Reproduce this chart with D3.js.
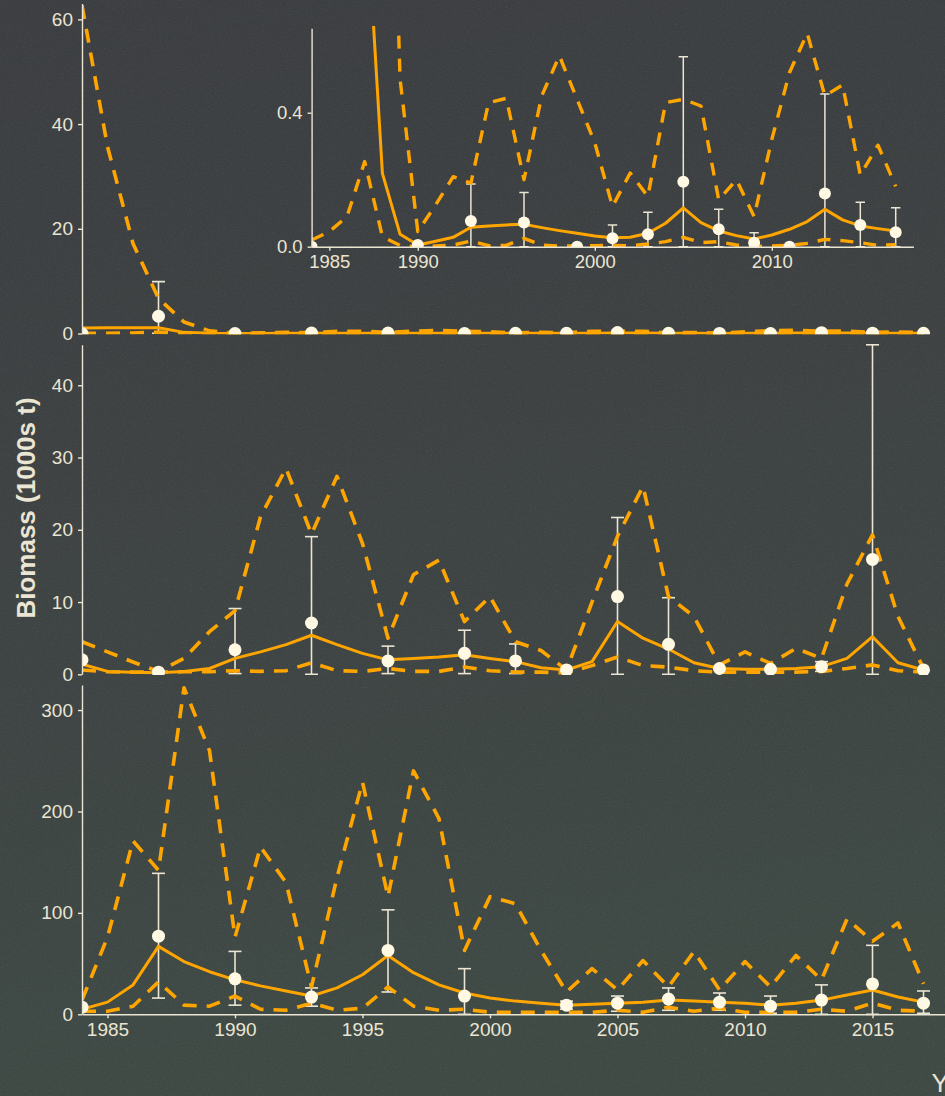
<!DOCTYPE html>
<html><head><meta charset="utf-8">
<script src="https://cdn.jsdelivr.net/npm/d3@7"></script>
<style>html,body{margin:0;padding:0;background:#3d4042;}svg{display:block;}</style>
</head><body>
<svg id="chart" width="945" height="1096"></svg>
<script>
// ---------------- DATA ----------------
const years = [1984,1985,1986,1987,1988,1989,1990,1991,1992,1993,1994,1995,1996,1997,1998,1999,2000,2001,2002,2003,2004,2005,2006,2007,2008,2009,2010,2011,2012,2013,2014,2015,2016,2017];

// Panel 1 (top) model estimate and dashed interval
const est1 = [1.05,1.08,1.1,1.1,0.219,0.037,0.005,0.016,0.028,0.058,0.062,0.065,0.067,0.057,0.048,0.040,0.032,0.027,0.028,0.040,0.070,0.116,0.072,0.047,0.033,0.023,0.035,0.052,0.075,0.112,0.080,0.062,0.054,0.047];
const hi1 = [62.7,35.7,17.2,6.7,2.2,0.5,0.045,0.124,0.209,0.19,0.43,0.443,0.2,0.45,0.57,0.44,0.31,0.12,0.22,0.15,0.43,0.44,0.42,0.14,0.2,0.09,0.32,0.52,0.637,0.45,0.483,0.214,0.303,0.18];
const lo1 = [0.02,0.045,0.09,0.254,0.03,0.004,0.0,0.002,0.005,0.017,0.003,0.004,0.025,0.005,0.002,0.002,0.003,0.004,0.003,0.008,0.015,0.028,0.012,0.015,0.005,0.001,0.002,0.004,0.01,0.022,0.018,0.012,0.004,0.006];
const ptYears1 = [1984,1987,1990,1993,1996,1999,2001,2003,2005,2007,2009,2011,2013,2015,2017];
const pt1   = [0.0,3.3,0.005,0.077,0.072,0.0,0.025,0.037,0.194,0.052,0.012,0.0,0.159,0.065,0.043];
const ptLo1 = [null,0.06,null,0,0,null,0,0,0,0,0,null,0,0,0];
const ptHi1 = [null,9.9,null,0.187,0.162,null,0.065,0.103,0.567,0.112,0.042,null,0.456,0.133,0.116];

// Panel 2 (middle)
const est2 = [1.4,0.4,0.3,0.2,0.4,0.8,2.2,3.1,4.1,5.4,4.1,2.9,2.0,2.2,2.4,2.7,2.2,1.75,0.9,0.6,1.75,7.3,5.0,3.5,1.6,0.8,0.7,0.7,0.8,1.06,2.2,5.2,1.6,0.6];
const hi2 = [4.5,3.1,1.7,0.4,2.2,5.9,8.8,21.8,28.5,19.4,27.4,18.1,5.0,13.8,15.8,7.3,10.75,4.5,3.3,0.6,10.0,19.1,26.0,10.75,8.0,1.3,3.1,1.5,3.6,2.2,12.5,19.3,8.0,0.8];
const lo2 = [0.6,0.35,0.3,0.3,0.35,0.35,0.5,0.4,0.5,1.6,0.5,0.4,0.8,0.4,0.4,1.0,0.5,0.3,0.3,0.2,1.2,2.4,1.2,1.0,0.5,0.3,0.3,0.3,0.3,0.4,0.8,1.3,0.5,0.3];
const ptYears2 = [1984,1987,1990,1993,1996,1999,2001,2003,2005,2007,2009,2011,2013,2015,2017];
const pt2   = [2.0,0.3,3.4,7.1,1.85,2.9,1.85,0.6,10.75,4.15,0.8,0.7,1.06,15.9,0.6];
const ptLo2 = [null,null,0.1,0.0,0.1,0.1,0.1,null,0.0,0.0,null,null,0.4,0.0,null];
const ptHi2 = [null,null,9.1,19.05,3.9,6.1,4.2,null,21.7,10.6,null,null,1.75,45.6,null];

// Panel 3 (bottom)
const est3 = [5,12,29,67,52,42,34,28,23,18,26,39,58,41,29,21,16,13,11,9,10,11,12,14,13,12,11,9,11,14,19,24,17,12];
const hi3 = [14,76,171,142,322,260,76,165,130,27,135,229,116,240,193,63,116,109,63,22,45,24,53,27,62,24,52,27,58,34,94,72,90,30];
const lo3 = [3,3,8,32,9,8,18,5,4,11,4,6,27,8,4,5,2,2,2,2,2,4,2,7,3,6,2,2,2,5,3,11,4,3];
const ptYears3 = [1984,1987,1990,1993,1996,1999,2003,2005,2007,2009,2011,2013,2015,2017];
const pt3   = [7,77,35,17,63,18,9,11,15,12,8,14,30,11];
const ptLo3 = [null,16,9,8,22,0,5,3,4,4,1,0,0,1];
const ptHi3 = [null,139,62,26,103,45,13,18,26,21,18,29,68,23];

// Tick labels
const yTicks1 = [0,20,40,60];
const yTicks2 = [0,10,20,30,40];
const yTicks3 = [0,100,200,300];
const xTicksMain = [1985,1990,1995,2000,2005,2010,2015];
const yTicksInset = [0,0.4];
const xTicksInset = [1985,1990,2000,2010];
const yTitle = "Biomass (1000s t)";
const xTitle = "Year";

// ---------------- STYLE ----------------
const ORANGE = "#ffa500";
const CREAM = "#ebe5d3";
const PTFILL = "#fff8e3";
const FONT = "'Liberation Sans', Arial, Helvetica, sans-serif";

const svg = d3.select("#chart");
const defs = svg.append("defs");

// background
const grad = defs.append("linearGradient").attr("id","bg").attr("x1",0).attr("y1",0).attr("x2",0.15).attr("y2",1);
grad.append("stop").attr("offset",0).attr("stop-color","#3c3e41");
grad.append("stop").attr("offset",0.45).attr("stop-color","#3e4243");
grad.append("stop").attr("offset",0.75).attr("stop-color","#3e4644");
grad.append("stop").attr("offset",1).attr("stop-color","#3f4a45");
svg.append("rect").attr("width",945).attr("height",1096).attr("fill","url(#bg)");
const noise = defs.append("filter").attr("id","noise").attr("x",0).attr("y",0).attr("width","100%").attr("height","100%");
noise.append("feTurbulence").attr("type","fractalNoise").attr("baseFrequency",0.7).attr("numOctaves",2).attr("seed",3);
noise.append("feColorMatrix").attr("type","matrix").attr("values","0 0 0 0 0.8  0 0 0 0 0.85  0 0 0 0 0.8  0 0 0 1.2 -0.55");
svg.append("rect").attr("width",945).attr("height",1096).attr("filter","url(#noise)").attr("opacity",0.10);

// ---------------- SCALES ----------------
const x = d3.scaleLinear().domain([1984, 2018.8]).range([82, 969.4]);
const y1 = d3.scaleLinear().domain([0, 63.05]).range([333.5, 3.4]);
const y2 = d3.scaleLinear().domain([0, 45.6]).range([674.3, 344.8]);
const y3 = d3.scaleLinear().domain([0, 324.7]).range([1014.3, 685]);
const xi = d3.scaleLinear().domain([1984, 2018]).range([311.6, 913.4]);
const yi = d3.scaleLinear().domain([0, 0.652]).range([246.7, 28.3]);

function addClip(id, x0, y0, x1, y1_) {
  defs.append("clipPath").attr("id", id).append("rect")
    .attr("x", x0).attr("y", y0).attr("width", x1 - x0).attr("height", y1_ - y0);
}
addClip("c1", 82, 0, 945, 334.3);
addClip("c2", 82, 340, 945, 675);
addClip("c3", 82, 680, 945, 1016);
addClip("ci", 311.6, 26, 920, 247.4);

function drawSeries(g, xs, ys, opt) {
  const line = d3.line().x(d => xs(d[0])).y(d => ys(d[1]));
  const ymax = ys.domain()[1];
  // error bars
  const eb = g.append("g").attr("class","errbars");
  opt.ptYears.forEach((yr, i) => {
    const lo = opt.ptLo[i], hi = opt.ptHi[i];
    if (lo === null || hi === null) return;
    if (opt.dropOutside && hi > ymax) return;
    const cx = xs(yr);
    eb.append("line").attr("x1",cx).attr("x2",cx).attr("y1",ys(lo)).attr("y2",ys(hi))
      .attr("stroke",CREAM).attr("stroke-width",opt.ebw);
    [lo, hi].forEach(v => {
      eb.append("line").attr("x1",cx-opt.cap).attr("x2",cx+opt.cap).attr("y1",ys(v)).attr("y2",ys(v))
        .attr("stroke",CREAM).attr("stroke-width",opt.ebw);
    });
  });
  // dashed interval lines
  [opt.lo, opt.hi].forEach(arr => {
    g.append("path").datum(years.map((yr,i)=>[yr, arr[i]]))
      .attr("d", line).attr("fill","none").attr("stroke",ORANGE)
      .attr("stroke-width",opt.dw).attr("stroke-dasharray",opt.dash).attr("stroke-linejoin","round");
  });
  // solid estimate
  g.append("path").datum(years.map((yr,i)=>[yr, opt.est[i]]))
    .attr("d", line).attr("fill","none").attr("stroke",ORANGE)
    .attr("stroke-width",opt.sw).attr("stroke-linejoin","round");
  // points
  opt.ptYears.forEach((yr, i) => {
    const hi = opt.ptHi[i];
    if (opt.dropOutside && (opt.pt[i] > ymax || (hi !== null && hi > ymax))) return;
    g.append("circle").attr("cx", xs(yr)).attr("cy", ys(opt.pt[i])).attr("r", opt.r).attr("fill", PTFILL);
  });
}

const mainOpt = {ebw:1.6, cap:6.5, dw:3.6, sw:3.0, dash:"14,10", r:6.5};

// Panel 1
const g1 = svg.append("g").attr("clip-path","url(#c1)");
drawSeries(g1, x, y1, Object.assign({}, mainOpt, {est:est1, lo:lo1, hi:hi1, ptYears:ptYears1, pt:pt1, ptLo:ptLo1, ptHi:ptHi1}));
// Panel 2
const g2 = svg.append("g").attr("clip-path","url(#c2)");
drawSeries(g2, x, y2, Object.assign({}, mainOpt, {est:est2, lo:lo2, hi:hi2, ptYears:ptYears2, pt:pt2, ptLo:ptLo2, ptHi:ptHi2}));
// Panel 3
const g3 = svg.append("g").attr("clip-path","url(#c3)");
drawSeries(g3, x, y3, Object.assign({}, mainOpt, {est:est3, lo:lo3, hi:hi3, ptYears:ptYears3, pt:pt3, ptLo:ptLo3, ptHi:ptHi3}));
// Inset
const gi = svg.append("g").attr("clip-path","url(#ci)");
drawSeries(gi, xi, yi, {ebw:1.5, cap:4.7, dw:3.4, sw:3.0, dash:"13,10", r:6, dropOutside:true,
  est:est1, lo:lo1, hi:hi1, ptYears:ptYears1, pt:pt1, ptLo:ptLo1, ptHi:ptHi1});

// ---------------- AXES ----------------
function styleAxis(sel, fs) {
  sel.select(".domain").attr("stroke",CREAM).attr("stroke-width",1.4);
  sel.selectAll(".tick line").attr("stroke",CREAM).attr("stroke-width",1.4);
  sel.selectAll(".tick text").attr("fill",CREAM).style("font-family",FONT).style("font-size",fs+"px");
}
function yAxis(scale, ticks, fmt, xpos, fs) {
  const a = svg.append("g").attr("transform",`translate(${xpos},0)`)
    .call(d3.axisLeft(scale).tickValues(ticks).tickFormat(fmt).tickSize(4).tickSizeOuter(0).tickPadding(5));
  styleAxis(a, fs);
  return a;
}
yAxis(y1, yTicks1, d3.format("d"), 82, 19);
yAxis(y2, yTicks2, d3.format("d"), 82, 19);
yAxis(y3, yTicks3, d3.format("d"), 82, 19);
yAxis(yi, yTicksInset, d3.format(".1f"), 311.6, 18.5);

const xa = svg.append("g").attr("transform","translate(0,1014.3)")
  .call(d3.axisBottom(x).tickValues(xTicksMain).tickFormat(d3.format("d")).tickSize(4).tickSizeOuter(0).tickPadding(4));
styleAxis(xa, 19);
const xai = svg.append("g").attr("transform","translate(0,246.7)")
  .call(d3.axisBottom(xi).tickValues(xTicksInset).tickFormat(d3.format("d")).tickSize(4).tickSizeOuter(0).tickPadding(4));
styleAxis(xai, 18.5);

// titles
svg.append("text").attr("transform","translate(34.5,508) rotate(-90)")
  .attr("text-anchor","middle").attr("fill",CREAM)
  .style("font-family",FONT).style("font-size","26px").style("font-weight","bold")
  .text(yTitle);
svg.append("text").attr("x",931.5).attr("y",1091.5).attr("fill",CREAM)
  .style("font-family",FONT).style("font-size","26px")
  .text(xTitle);
</script>
</body></html>
